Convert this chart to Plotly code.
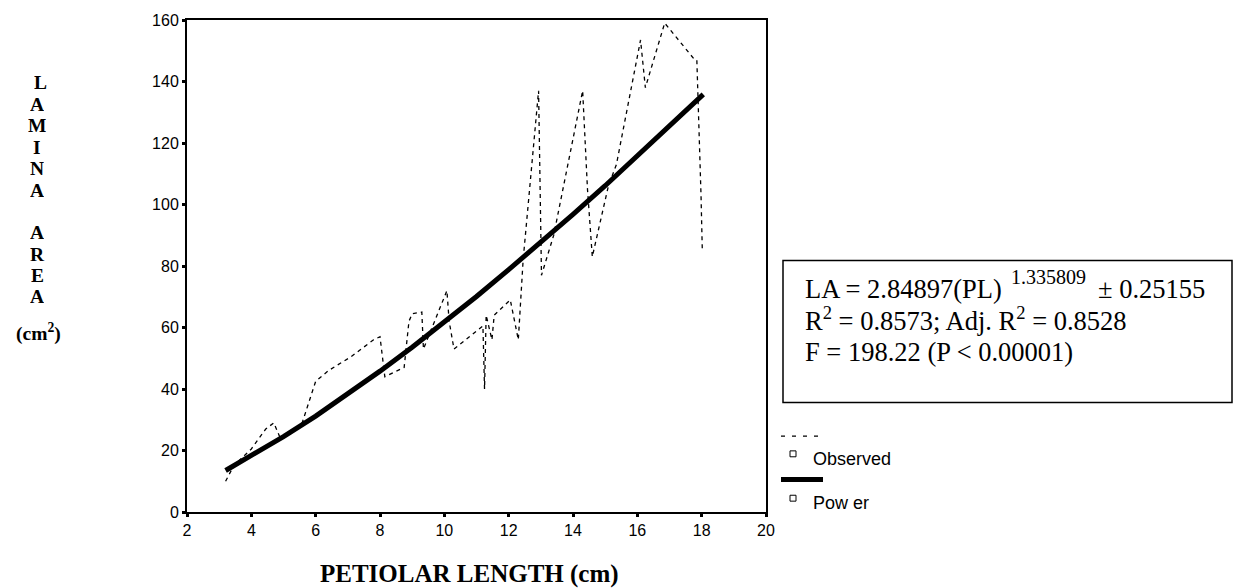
import plotly.graph_objects as go

# ---- data ----
obs_x = [3.2, 3.45, 4.0, 4.45, 4.7, 4.9, 5.55, 6.0, 6.4, 7.1, 7.8, 8.0, 8.15, 8.75, 8.9, 9.0,
         9.3, 9.35, 10.08, 10.15, 10.3, 11.0, 11.2, 11.25, 11.3, 11.48, 11.55, 12.05, 12.3,
         12.45, 12.93, 13.02, 13.4, 14.3, 14.45, 14.6, 15.1, 15.35, 16.1, 16.25, 16.85,
         17.75, 17.85, 17.98, 18.02]
obs_y = [10, 15, 20.5, 27, 29, 24, 28, 42.5, 46, 50.5, 56, 57, 44, 47, 62, 64.5,
         65, 53, 72, 62, 53, 59, 60.5, 40, 64, 56, 64, 69, 56,
         82, 137, 77, 90, 137, 105, 83, 106, 113, 153.5, 138, 159,
         147.5, 147, 103, 85]

fit_x = [3.2, 4, 5, 6, 7, 8, 9, 10, 11, 12, 13, 14, 15, 16, 17, 18.05]
fit_y = [13.5, 18.2, 24.5, 31.2, 38.3, 45.8, 53.6, 61.7, 70.1, 78.8, 87.6, 96.8, 106.1,
         115.7, 125.4, 135.8]

x_ticks = [2, 4, 6, 8, 10, 12, 14, 16, 18, 20]
y_ticks = [0, 20, 40, 60, 80, 100, 120, 140, 160]

y_title_letters = ["L", "A", "M", "I", "N", "A", "A", "R", "E", "A", "(cm<sup>2</sup>)"]
x_title = "PETIOLAR LENGTH (cm)"
legend_labels = ["Observed", "Pow er"]

W, H = 1234, 588
L_, R_, T_, B_ = 187, 766, 13, 512


def px(xp):
    return (xp - L_) / (R_ - L_)


def py(yp):
    return (B_ - yp) / (B_ - T_)


fig = go.Figure()
fig.add_trace(go.Scatter(x=obs_x, y=obs_y, mode="lines", name="Observed",
                         line=dict(color="black", width=1.3, dash="4px,4px")))
fig.add_trace(go.Scatter(x=fit_x, y=fit_y, mode="lines", name="Power",
                         line=dict(color="black", width=5)))

axis_common = dict(showline=True, linecolor="black", linewidth=2, mirror=True,
                   ticks="outside", ticklen=3, tickwidth=3, tickcolor="black",
                   showgrid=False, zeroline=False,
                   tickfont=dict(family="Liberation Sans, Arial", size=16, color="black"))

fig.update_layout(
    width=W, height=H,
    margin=dict(l=L_, r=W - R_, t=T_, b=H - B_, pad=0),
    paper_bgcolor="white", plot_bgcolor="white",
    showlegend=False,
    xaxis=dict(range=[2, 20], tickvals=x_ticks, **axis_common),
    yaxis=dict(range=[0, 160], tickvals=y_ticks, **axis_common),
)

ann = []
serif_b = dict(family="Liberation Serif, Times New Roman", size=19.5, color="black")
ys = [76, 98, 120, 142, 163, 185, 228, 250, 272, 293, 330]
xs = [40, 37, 37, 37, 37, 37, 37, 37, 37, 37, 38]
for i, (t, xp, yp) in enumerate(zip(y_title_letters, xs, ys)):
    a = dict(text="<b>%s</b>" % t, x=px(xp), y=py(yp), xref="paper", yref="paper",
             xanchor="center", yanchor="middle", showarrow=False, font=serif_b)
    if i < len(y_title_letters) - 1:
        a["height"] = 20
    ann.append(a)

ann.append(dict(text="<b>%s</b>" % x_title, x=px(469), y=py(575), xref="paper", yref="paper",
                xanchor="center", yanchor="middle", showarrow=False,
                font=dict(family="Liberation Serif, Times New Roman", size=25, color="black")))

serif = dict(family="Liberation Serif, Times New Roman", size=26.5, color="black")
ann.append(dict(text="LA = 2.84897(PL)", x=px(803), y=py(286), xref="paper", yref="paper",
                xanchor="left", yanchor="middle", showarrow=False, font=serif))
ann.append(dict(text="1.335809", x=px(1009), y=py(274), xref="paper", yref="paper",
                xanchor="left", yanchor="middle", showarrow=False,
                font=dict(family="Liberation Serif, Times New Roman", size=20, color="black")))
ann.append(dict(text="± 0.25155", x=px(1096), y=py(286), xref="paper", yref="paper",
                xanchor="left", yanchor="middle", showarrow=False, font=serif))
ann.append(dict(text="R<sup>2</sup> = 0.8573; Adj. R<sup>2</sup> = 0.8528", x=px(803), y=py(316),
                xref="paper", yref="paper", xanchor="left", yanchor="middle",
                showarrow=False, font=serif))
ann.append(dict(text="F = 198.22 (P < 0.00001)", x=px(803), y=py(350), xref="paper", yref="paper",
                xanchor="left", yanchor="middle", showarrow=False, font=serif))

sans = dict(family="Liberation Sans, Arial", size=18, color="black")
ann.append(dict(text=legend_labels[0], x=px(811), y=py(458), xref="paper", yref="paper",
                xanchor="left", yanchor="middle", showarrow=False, font=sans))
ann.append(dict(text=legend_labels[1], x=px(811), y=py(503), xref="paper", yref="paper",
                xanchor="left", yanchor="middle", showarrow=False, font=sans))

shapes = [
    dict(type="rect", xref="paper", yref="paper", x0=px(783), x1=px(1232), y0=py(401), y1=py(257),
         line=dict(color="black", width=1.5)),
    dict(type="line", xref="paper", yref="paper", x0=px(781), x1=px(824), y0=py(435), y1=py(435),
         line=dict(color="black", width=1.3, dash="4px,7px")),
    dict(type="rect", xref="paper", yref="paper", x0=px(790), x1=px(796), y0=py(456), y1=py(450),
         line=dict(color="black", width=1)),
    dict(type="line", xref="paper", yref="paper", x0=px(781), x1=px(823), y0=py(479), y1=py(479),
         line=dict(color="black", width=5)),
    dict(type="rect", xref="paper", yref="paper", x0=px(790), x1=px(796), y0=py(501), y1=py(495),
         line=dict(color="black", width=1)),
]

fig.update_layout(annotations=ann, shapes=shapes)
fig.write_html("out.html")
